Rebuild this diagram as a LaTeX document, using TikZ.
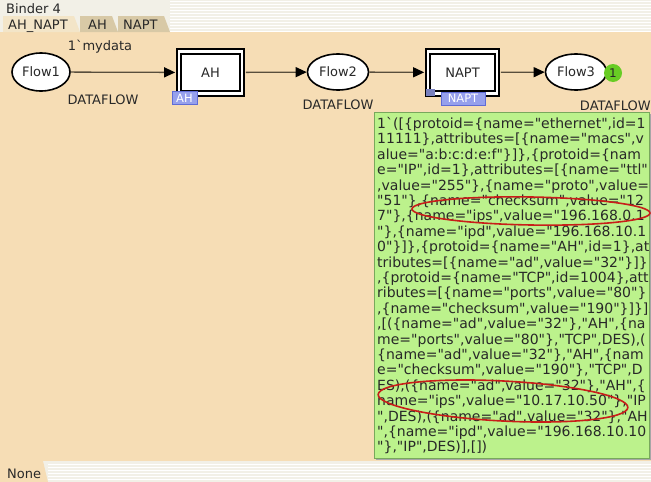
\documentclass[tikz,border=0pt]{standalone}
\usepackage{fontspec}
\newfontfamily\uifont{DejaVu Sans}
\usetikzlibrary{shapes.geometric,arrows.meta}

\definecolor{canvas}{RGB}{246,221,181}
\definecolor{stripbg}{RGB}{242,240,231}
\definecolor{tabon}{RGB}{243,229,200}
\definecolor{taboff}{RGB}{216,201,166}
\definecolor{arccol}{RGB}{88,78,60}
\definecolor{labcol}{RGB}{40,40,40}
\definecolor{tagfill}{RGB}{150,160,236}
\definecolor{tagline}{RGB}{95,108,215}
\definecolor{markfill}{RGB}{188,242,140}
\definecolor{markline}{RGB}{120,168,92}
\definecolor{tokfill}{RGB}{104,204,36}
\definecolor{ringred}{RGB}{200,30,25}

\tikzset{
  place/.style={ellipse, draw=black, line width=1.6pt, fill=white,
    minimum width=61pt, minimum height=36pt, inner sep=0pt,
    font=\uifont\fontsize{13}{15}\selectfont, text=labcol},
  trans/.style={rectangle, draw=black, line width=1.7pt, double=white,
    double distance=2.8pt, fill=white, inner sep=0pt,
    font=\uifont\fontsize{13}{15}\selectfont, text=labcol},
  arc/.style={draw=arccol, line width=1.3pt,
    -{Triangle[length=11pt,width=10pt,color=black]}},
  inscr/.style={font=\uifont\fontsize{13}{15}\selectfont, text=labcol, inner sep=0pt},
  tag/.style={rectangle, fill=tagfill, draw=tagline, line width=0.8pt,
    inner sep=0pt, minimum height=13pt, text=white,
    font=\uifont\fontsize{11.5}{13}\selectfont},
  tab/.style={font=\uifont\fontsize{13}{15}\selectfont, text=labcol, inner sep=0pt},
}

\begin{document}
\begin{tikzpicture}[x=1pt, y=-1pt]
\useasboundingbox (0,0) rectangle (651,482);

% window chrome: header strip, page tabs, canvas and status strip
\fill[stripbg] (0,0) rectangle (651,482);
\foreach \yy in {1,4,...,31} \draw[white, line width=1pt] (170,\yy) -- (651,\yy);
\foreach \yy in {464,467,...,482} \draw[white, line width=1pt] (48,\yy) -- (651,\yy);
\fill[canvas] (0,32) rectangle (651,461);
\fill[tabon] (3,32) -- (3,16) -- (74,16) -- (80,32) -- cycle;
\fill[taboff] (80,32) -- (80,16) -- (112,16) -- (118,32) -- cycle;
\fill[taboff] (118,32) -- (118,16) -- (164,16) -- (170,32) -- cycle;
\fill[canvas] (0,461) -- (43,461) -- (48,482) -- (0,482) -- cycle;

\node[tab, anchor=base west] (binder) at (6,13) {Binder 4};
\node[tab, anchor=base west] (tabmain) at (8,29) {AH\_NAPT};
\node[tab, anchor=base west] (tabah) at (88,29) {AH};
\node[tab, anchor=base west] (tabnapt) at (123,29) {NAPT};
\node[tab, anchor=base west] (status) at (7,478) {None};

% places and substitution transitions
\node[place, minimum width=58pt, minimum height=38pt] (flow1) at (41,72) {Flow1};
\node[trans, minimum width=63pt, minimum height=42pt] (ah) at (210.5,72.5) {AH};
\node[place] (flow2) at (338,72) {Flow2};
\node[trans, minimum width=69pt, minimum height=42pt] (napt) at (462.5,72.5) {NAPT};
\node[place] (flow3) at (576,72) {Flow3};

% arcs
\draw[arc, shorten >=3pt] (flow1) -- (ah);
\draw[arc, shorten <=3pt] (ah) -- (flow2);
\draw[arc, shorten >=3pt] (flow2) -- (napt);
\draw[arc, shorten <=3pt] (napt) -- (flow3);

% inscriptions
\node[inscr] (initmark) at (100,47) {1`mydata};
\node[inscr] (type1) at (103,100) {DATAFLOW};
\node[inscr] (type2) at (338,105) {DATAFLOW};
\node[inscr, anchor=east] (type3) at (651,106) {DATAFLOW};

% subpage tags
\fill[tagfill!80!black] (426,89) rectangle (435,96);
\node[tag, minimum width=25pt] (ahtag) at (184.5,98) {AH};
\node[tag, minimum width=44pt] (napttag) at (463,98.5) {NAPT};

% token count and current marking
\node[circle, fill=tokfill, inner sep=0pt, minimum size=18pt,
  font=\uifont\fontsize{12}{14}\selectfont, text=labcol] (count) at (613,73) {1};

\fill[black!35] (376,114) rectangle (651,460);
\filldraw[fill=markfill, draw=markline, line width=0.8pt] (374,112) rectangle (649,458);
\node[anchor=north west, inner sep=0pt, align=left, text=labcol,
  font=\uifont\fontsize{14}{15.4}\selectfont] (marking) at (377,117) {%
1`([\{protoid=\{name="ethernet",id=1\\
11111\},attributes=[\{name="macs",v\\
alue="a:b:c:d:e:f"\}]\},\{protoid=\{nam\\
e="IP",id=1\},attributes=[\{name="ttl"\\
,value="255"\},\{name="proto",value=\\
"51"\},\{name="checksum",value="12\\
7"\},\{name="ips",value="196.168.0.1\\
"\},\{name="ipd",value="196.168.10.1\\
0"\}]\},\{protoid=\{name="AH",id=1\},at\\
tributes=[\{name="ad",value="32"\}]\}\\
,\{protoid=\{name="TCP",id=1004\},att\\
ributes=[\{name="ports",value="80"\}\\
,\{name="checksum",value="190"\}]\}]\\
,[(\{name="ad",value="32"\},"AH",\{na\\
me="ports",value="80"\},"TCP",DES),(\\
\{name="ad",value="32"\},"AH",\{nam\\
e="checksum",value="190"\},"TCP",D\\
ES),(\{name="ad",value="32"\},"AH",\{\\
name="ips",value="10.17.10.50"\},"IP\\
",DES),(\{name="ad",value="32"\},"AH\\
",\{name="ipd",value="196.168.10.10\\
"\},"IP",DES)],[])};

% hand-drawn rings around the source address fields
\draw[ringred, line width=1.6pt, rotate around={-1:(531,211)}]
  (531,211) ellipse [x radius=119, y radius=14];
\draw[ringred, line width=1.6pt, rotate around={-3:(503,401)}]
  (503,401) ellipse [x radius=125, y radius=20];
\end{tikzpicture}
\end{document}
